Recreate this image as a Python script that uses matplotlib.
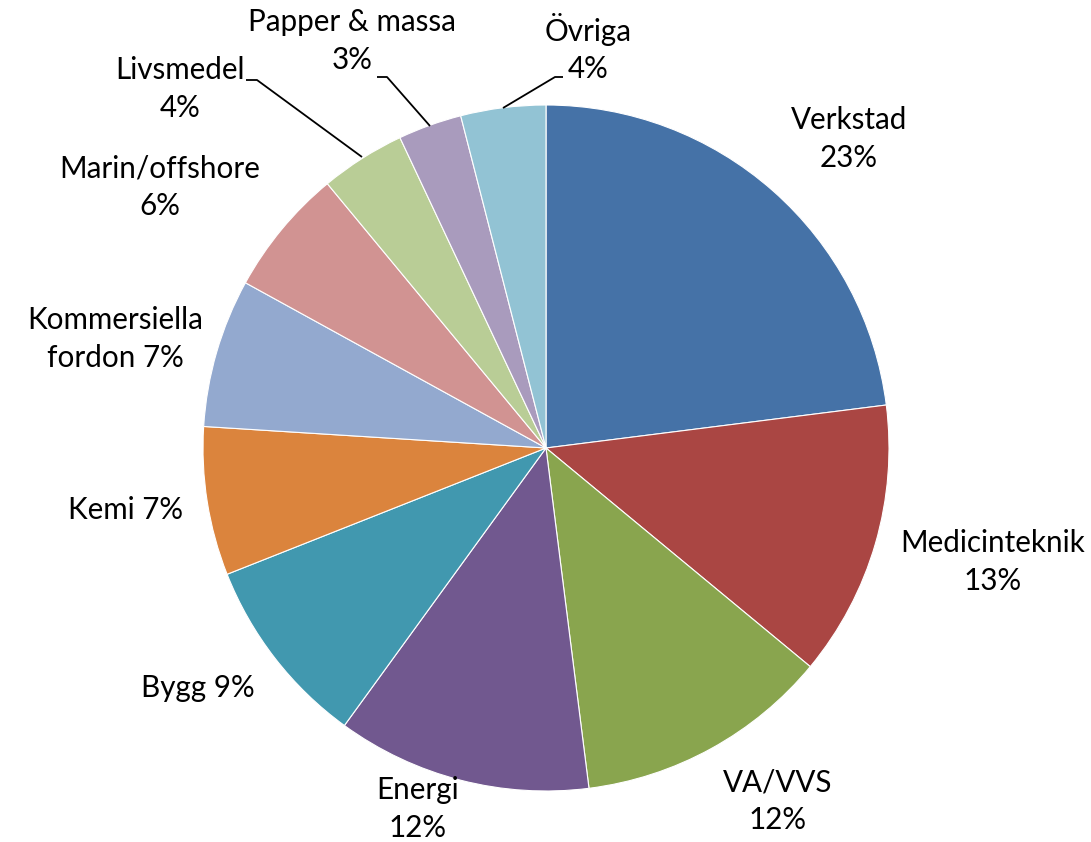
import matplotlib
matplotlib.use("Agg")
import matplotlib.pyplot as plt

categories = ["Verkstad", "Medicinteknik", "VA/VVS", "Energi", "Bygg", "Kemi",
              "Kommersiella\nfordon", "Marin/offshore", "Livsmedel", "Papper & massa", "Övriga"]
values = [23, 13, 12, 12, 9, 7, 7, 6, 4, 3, 4]
label_texts = ["Verkstad\n23%", "Medicinteknik\n13%", "VA/VVS\n12%", "Energi\n12%",
               "Bygg 9%", "Kemi 7%", "Kommersiella\nfordon 7%", "Marin/offshore\n6%",
               "Livsmedel\n4%", "Papper & massa\n3%", "Övriga\n4%"]
colors = ["#4572A7", "#AA4643", "#89A54E", "#71588F", "#4198AF", "#DB843D",
          "#93A9CF", "#D19392", "#B9CD96", "#A99BBD", "#92C3D4"]

W, H = 1091, 842
fig = plt.figure(figsize=(W / 100, H / 100), dpi=100)
ax = fig.add_axes([0, 0, 1, 1])

cx, cy, r = 546, 448, 343
# y axis is inverted below: startangle -90 points up on screen and
# counterclockwise in data runs clockwise on screen
wedges, _ = ax.pie(values, colors=colors, startangle=-90, counterclock=True,
                   center=(cx, cy), radius=r, frame=True,
                   wedgeprops=dict(edgecolor="white", linewidth=0.8))
ax.set_xlim(0, W)
ax.set_ylim(H, 0)
ax.set_aspect("equal")
ax.axis("off")

# label layout (pixel positions of label block centers)
label_pos = [(849, 139), (993, 562), (778, 801), (418, 809), (198, 688), (125, 510),
             (115, 339), (160, 187), (180, 89), (352, 41), (588, 48)]
font = dict(family=["Lato", "DejaVu Sans"], fontsize=21.3, color="black")
for txt, (x, y) in zip(label_texts, label_pos):
    ax.text(x, y, txt, ha="center", va="center", linespacing=1.42, **font)

# leader lines
leaders = [
    [(246, 80), (257, 80), (362, 157)],
    [(377, 77), (387, 77), (430, 126)],
    [(563, 77), (555, 77), (503, 108)],
]
for pts in leaders:
    xs, ys = zip(*pts)
    ax.plot(xs, ys, color="black", linewidth=1.3, solid_capstyle="butt")

fig.savefig("out.png", dpi=100, facecolor="white")
